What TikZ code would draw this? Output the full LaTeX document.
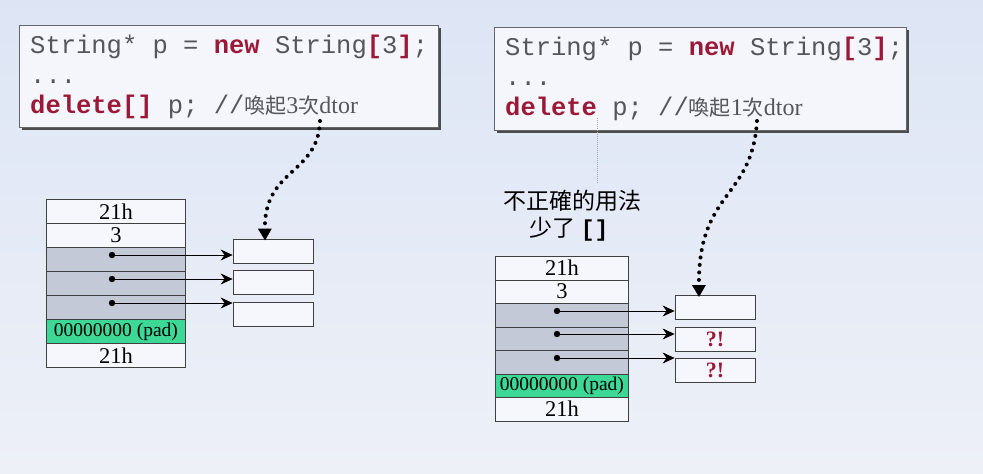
\documentclass[tikz,border=0pt]{standalone}
\usepackage{fontspec}
\setmainfont{Liberation Serif}
\setmonofont{Liberation Mono}
\newfontfamily\cjk{Noto Sans CJK TC}
\usetikzlibrary{arrows.meta}
\definecolor{bgtop}{RGB}{221,229,245}
\definecolor{bgbot}{RGB}{237,240,247}
\definecolor{boxfill}{RGB}{244,246,252}
\definecolor{kw}{RGB}{155,25,55}
\definecolor{codegray}{RGB}{85,85,90}
\definecolor{rowgray}{RGB}{196,201,216}
\definecolor{rowwhite}{RGB}{245,247,252}
\definecolor{padgreen}{RGB}{62,216,150}
\tikzset{
  codebox/.style={draw=gray!80!black, line width=1pt, fill=boxfill},
  shadowbox/.style={fill=gray!60!black},
  codeline/.style={anchor=base west, inner sep=0pt, text=codegray, font=\ttfamily\fontsize{25.5}{25.5}\selectfont},
  memrow/.style={draw=black!75, line width=0.8pt, anchor=north west, inner sep=0pt, font=\fontsize{22.5}{22.5}\selectfont},
  whiterow/.style={memrow, fill=rowwhite},
  grayrow/.style={memrow, fill=rowgray},
  padrow/.style={memrow, fill=padgreen, font=\fontsize{19.5}{19.5}\selectfont},
  objbox/.style={draw=black!75, line width=0.8pt, fill=rowwhite, minimum width=80pt, minimum height=24pt, inner sep=0pt, font=\bfseries\fontsize{22}{22}\selectfont, text=kw},
  ptr/.style={line width=0.7pt, -{Stealth[length=12pt,width=11pt,inset=4pt]}},
  dotarrow/.style={line width=4pt, dash pattern=on 0pt off 7.5pt, line cap=round, -{Triangle[length=12pt,width=13pt]}, shorten >=-2pt},
  thindot/.style={draw=gray!70, line width=0.6pt, dash pattern=on 1pt off 1pt}
}
\newcommand{\kwd}[1]{{\bfseries\color{kw}#1}}
\begin{document}
\begin{tikzpicture}[x=1pt,y=-1pt]
\useasboundingbox (0,0) rectangle (983,474);
\shade[top color=bgtop, bottom color=bgbot] (0,0) rectangle (983,474);

% ---------- left code box
\fill[shadowbox] (22,28) rectangle (441,130);
\draw[codebox] (19,25) rectangle (438,127);
\node[codeline] (l1) at (30,53) {String* p = \kwd{new} String\kwd{[}3\kwd{]};};
\node[codeline] (l2) at (30,83) {...};
\node[codeline] (l3) at (30,113) {\kwd{delete[]} p; //{\cjk\fontsize{21}{21}\selectfont 喚起}{\rmfamily\fontsize{24}{24}\selectfont 3}{\cjk\fontsize{21}{21}\selectfont 次}{\rmfamily\fontsize{24}{24}\selectfont dtor}};

% ---------- right code box
\fill[shadowbox] (497,30) rectangle (909,133);
\draw[codebox] (494,27) rectangle (906,130);
\node[codeline] (r1) at (505,55) {String* p = \kwd{new} String\kwd{[}3\kwd{]};};
\node[codeline] (r2) at (505,85) {...};
\node[codeline] (r3) at (505,115) {\kwd{delete} p; //{\cjk\fontsize{21}{21}\selectfont 喚起}{\rmfamily\fontsize{24}{24}\selectfont 1}{\cjk\fontsize{21}{21}\selectfont 次}{\rmfamily\fontsize{24}{24}\selectfont dtor}};

% ---------- left memory block
\node[whiterow, minimum width=139pt, minimum height=24pt] (a1) at (46,199) {21h};
\node[whiterow, minimum width=139pt, minimum height=24pt] (a2) at (46,223) {3};
\node[grayrow, minimum width=139pt, minimum height=24pt] (a3) at (46,247) {};
\node[grayrow, minimum width=139pt, minimum height=24pt] (a4) at (46,271) {};
\node[grayrow, minimum width=139pt, minimum height=24pt] (a5) at (46,295) {};
\node[padrow, minimum width=139pt, minimum height=24pt] (a6) at (46,319) {00000000 (pad)};
\node[whiterow, minimum width=139pt, minimum height=24pt] (a7) at (46,343) {21h};

\node[objbox] (ob1) at (273,251) {};
\node[objbox] (ob2) at (273,282.5) {};
\node[objbox] (ob3) at (273,314) {};

\coordinate (ad1) at (112,255);
\coordinate (ad2) at (112,279);
\coordinate (ad3) at (112,303);
\foreach \i in {1,2,3} {
  \fill (ad\i) circle (3.2pt);
  \draw[ptr] (ad\i) -- (ad\i -| ob\i.west);
}

% ---------- right memory block
\node[whiterow, minimum width=133pt, minimum height=23.5pt] (b1) at (495,256) {21h};
\node[whiterow, minimum width=133pt, minimum height=23.5pt] (b2) at (495,279.5) {3};
\node[grayrow, minimum width=133pt, minimum height=23.5pt] (b3) at (495,303) {};
\node[grayrow, minimum width=133pt, minimum height=23.5pt] (b4) at (495,326.5) {};
\node[grayrow, minimum width=133pt, minimum height=23.5pt] (b5) at (495,350) {};
\node[padrow, minimum width=133pt, minimum height=23.5pt] (b6) at (495,373.5) {00000000 (pad)};
\node[whiterow, minimum width=133pt, minimum height=23.5pt] (b7) at (495,397) {21h};

\node[objbox] (rb1) at (715,307.5) {};
\node[objbox] (rb2) at (715,339) {?!};
\node[objbox] (rb3) at (715,370.5) {?!};

\coordinate (bd1) at (557,311);
\coordinate (bd2) at (557,334);
\coordinate (bd3) at (557,358);
\foreach \i in {1,2,3} {
  \fill (bd\i) circle (3.2pt);
  \draw[ptr] (bd\i) -- (bd\i -| rb\i.west);
}

% ---------- label
\node[font=\cjk\fontsize{23}{23}\selectfont, inner sep=0pt] (lab1) at (572,201) {不正確的用法};
\node[font=\cjk\fontsize{23}{23}\selectfont, inner sep=0pt] (lab2) at (569,229) {少了 {\ttfamily\bfseries []}};
\coordinate (dl) at (597,118);
\draw[thindot, shorten >=7pt] (dl) -- (dl |- lab1.north);

% ---------- dotted arrows
\coordinate (lstart) at (320,121);
\coordinate (rstart) at (757,121);
\draw[dotarrow] (lstart) .. controls (318,175) and (264,168) .. (ob1.north -| 265,0);
\draw[dotarrow] (rstart) .. controls (752,200) and (698,190) .. (rb1.north -| 699,0);
\end{tikzpicture}
\end{document}
